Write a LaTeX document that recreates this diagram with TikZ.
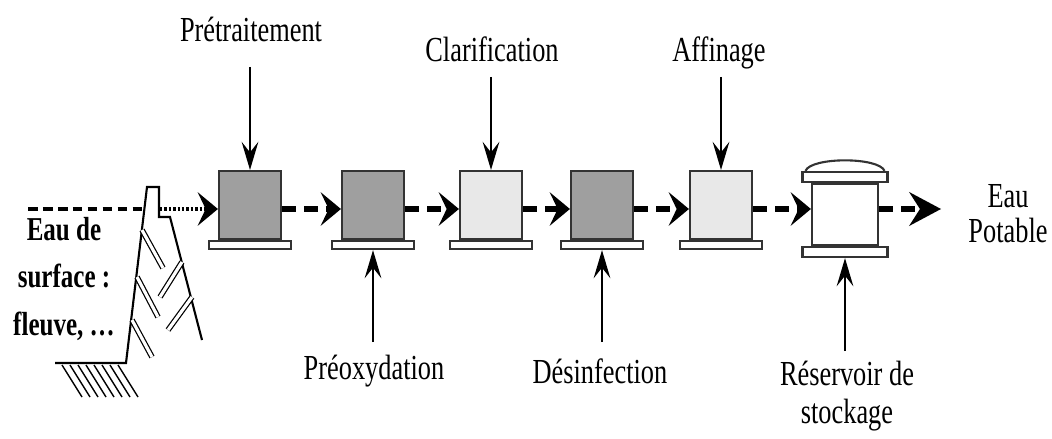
\documentclass[tikz,border=0pt]{standalone}
\usepackage{fontspec}
\setmainfont{Liberation Serif}[FakeStretch=0.75]
\usetikzlibrary{arrows.meta}

\colorlet{dark}{gray!75}
\colorlet{light}{gray!18}
\tikzset{
  unit/.style={draw=black!80,line width=1.2pt,minimum width=1.24cm,minimum height=1.36cm,inner sep=0pt},
  plate/.style={draw=black!80,fill=white,line width=1.2pt,minimum width=1.64cm,minimum height=0.16cm,inner sep=0pt},
  flow/.style={line width=3.6pt,dash pattern=on 8pt off 4.5pt,-{Stealth[length=11.5pt,width=19pt,inset=4.5pt]}},
  feed/.style={line width=1.1pt,-{Stealth[length=16pt,width=9.5pt,inset=6pt]}},
  lbl/.style={font=\fontsize{20}{22}\selectfont,inner sep=0pt}
}

\begin{document}
\begin{tikzpicture}[x=0.02cm,y=-0.02cm]
  \useasboundingbox (0,0) rectangle (1052,439);
  \draw (250,205)
    node (pre) [unit,fill=dark] {} ++(123,0)
    node (pox) [unit,fill=dark] {} ++(118,0)
    node (cla) [unit,fill=light] {} ++(111,0)
    node (des) [unit,fill=dark] {} ++(119,0)
    node (aff) [unit,fill=light] {} ++(124,9.5)
    node (res) [unit,fill=white,minimum width=1.32cm,minimum height=1.22cm] {}
    ;
  \path (pre.south) node (prep) [plate,anchor=north] {};
  \path (pox.south) node (poxp) [plate,anchor=north] {};
  \path (cla.south) node (clap) [plate,anchor=north] {};
  \path (des.south) node (desp) [plate,anchor=north] {};
  \path (aff.south) node (affp) [plate,anchor=north] {};
  \path (res.south) node (resp) [plate,anchor=north,minimum width=1.7cm,minimum height=0.2cm] {};
  \path (res.north) node (rest) [plate,anchor=south,minimum width=1.7cm,minimum height=0.2cm] {};
  \path (node cs:name=rest,anchor=north west) +(4,0) coordinate (resdl) {};
  \path (node cs:name=rest,anchor=north east) +(-4,0) coordinate (resdr) {};
  \draw[draw=black!80,fill=white,line width=1.2pt] (resdl) .. controls +(6,-14) and +(-6,-14) .. (resdr);

  \draw[line width=1.2pt] (55,363) -- (126,363) -- (147,187) -- (159,187) -- (159,217) -- (170,217) -- (202,340);
  \draw[line width=0.8pt]
    (62,365) -- ++(20,32) (70,365) -- ++(20,32) (78,365) -- ++(20,32) (86,365) -- ++(20,32)
    (94,365) -- ++(20,32) (102,365) -- ++(20,32) (110,365) -- ++(20,32) (118,365) -- ++(20,32);
  \draw[double,double distance=1.8pt,line width=0.7pt]
    (142,230) -- (163,268) (137,277) -- (158,317) (132,320) -- (152,357)
    (182,262) -- (160,297) (192,297) -- (168,330);

  \path (28,209) coordinate (srci) {};
  \path (145,209) coordinate (srco) {};
  \path (160,209) coordinate (damo) {};
  \path (node cs:name=pre,anchor=west) +(0,4) coordinate (prei) {};
  \draw[line width=2pt,dash pattern=on 5.5pt off 3pt] (srci) -- (srco);
  \draw[flow,line width=2.6pt,dash pattern=on 1.4pt off 1.1pt] (damo) -- (prei);

  \path (node cs:name=pre,anchor=east) +(0,4) coordinate (preo) {};
  \path (node cs:name=pox,anchor=west) +(0,4) coordinate (poxi) {};
  \draw[flow] (preo) -- (poxi);
  \path (node cs:name=pox,anchor=east) +(0,4) coordinate (poxo) {};
  \path (node cs:name=cla,anchor=west) +(0,4) coordinate (clai) {};
  \draw[flow] (poxo) -- (clai);
  \path (node cs:name=cla,anchor=east) +(0,4) coordinate (clao) {};
  \path (node cs:name=des,anchor=west) +(0,4) coordinate (desi) {};
  \draw[flow] (clao) -- (desi);
  \path (node cs:name=des,anchor=east) +(0,4) coordinate (deso) {};
  \path (node cs:name=aff,anchor=west) +(0,4) coordinate (affi) {};
  \draw[flow] (deso) -- (affi);
  \path (node cs:name=aff,anchor=east) +(0,4) coordinate (affo) {};
  \path (node cs:name=res,anchor=west) +(0,-5.5) coordinate (resi) {};
  \draw[flow] (affo) -- (resi);
  \path (node cs:name=res,anchor=east) +(0,-5.5) coordinate (reso) {};
  \path (reso) +(62,0) coordinate (out) {};
  \draw[flow,-{Stealth[length=18pt,width=19pt,inset=6pt]}] (reso) -- (out);

  \draw (251,42) node (pretx) [lbl,anchor=base] {Prétraitement}
    (492,62) node (clatx) [lbl,anchor=base] {Clarification}
    (719,62) node (afftx) [lbl,anchor=base] {Affinage}
    (374,379) node (poxtx) [lbl,anchor=base] {Préoxydation}
    (600,383) node (destx) [lbl,anchor=base] {Désinfection}
    (847,423) node (restx) [lbl,anchor=base,align=center,font=\fontsize{20}{21.5}\selectfont] {Réservoir de\\stockage}
    (1008,242) node (outtx) [lbl,anchor=base,align=center,font=\fontsize{20}{19.8}\selectfont] {Eau\\Potable}
    (64,335) node (srctx) [lbl,anchor=base,align=center,font=\fontsize{19}{27}\selectfont\bfseries] {Eau de\\surface :\\fleuve, \dots}
    ;

  \path (node cs:name=pre,anchor=north) +(0,-103) coordinate (pref) {};
  \draw[feed] (pref) -- (pre.north);
  \path (node cs:name=cla,anchor=north) +(0,-93) coordinate (claf) {};
  \draw[feed] (claf) -- (cla.north);
  \path (node cs:name=aff,anchor=north) +(0,-93) coordinate (afff) {};
  \draw[feed] (afff) -- (aff.north);
  \path (node cs:name=poxp,anchor=south) +(0,92) coordinate (poxf) {};
  \draw[feed] (poxf) -- (poxp.south);
  \path (node cs:name=desp,anchor=south) +(0,92) coordinate (desf) {};
  \draw[feed] (desf) -- (desp.south);
  \path (node cs:name=resp,anchor=south) +(0,93) coordinate (resf) {};
  \draw[feed] (resf) -- (resp.south);
\end{tikzpicture}
\end{document}
